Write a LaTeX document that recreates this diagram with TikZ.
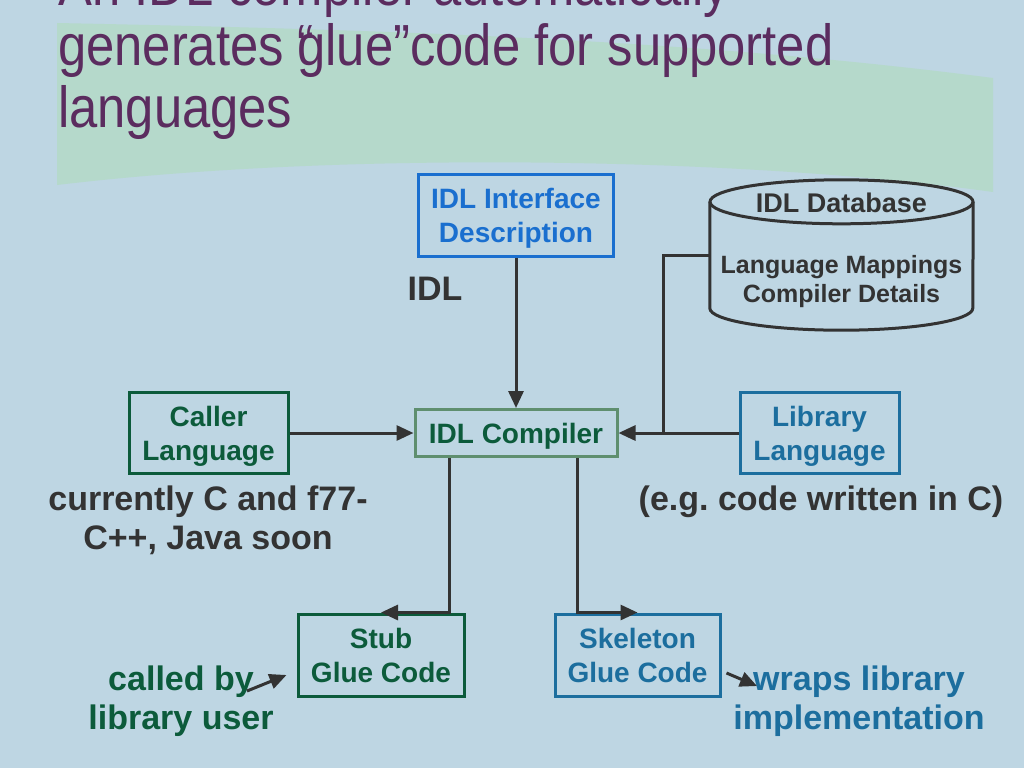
\documentclass[tikz,border=0pt]{standalone}
\usepackage{fontspec}
\setmainfont{Liberation Sans}
\newfontfamily\titlefont[FakeStretch=0.875]{Liberation Sans}
\usepackage{tikz}
\usetikzlibrary{arrows.meta}

\definecolor{bgblue}{HTML}{BED6E3}
\definecolor{swoosh}{HTML}{B5D9CB}
\definecolor{titlepurple}{HTML}{5B2C5F}
\definecolor{idlblue}{HTML}{1A6FCF}
\definecolor{libblue}{HTML}{1C6E9E}
\definecolor{callgreen}{HTML}{0C5B3B}
\definecolor{cmpgreen}{HTML}{5F8F6F}
\definecolor{linegray}{HTML}{333333}

\begin{document}
\begin{tikzpicture}[x=1pt,y=-1pt,>={Triangle[length=17pt,width=15pt]},
  box/.style={draw,line width=3pt,minimum width=159pt,minimum height=81pt,inner sep=0pt,text depth=0pt,align=center,font=\fontsize{28}{34}\selectfont\bfseries},
  note/.style={inner sep=0pt,align=center,font=\fontsize{34}{39}\selectfont\bfseries},
  heading/.style={anchor=base west,inner sep=0pt,text=titlepurple,font=\titlefont\fontsize{58}{58}\selectfont},
  conn/.style={draw=linegray,line width=3pt}]
\clip (0,0) rectangle (1024,768);
\fill[bgblue] (0,0) rectangle (1024,768);
% green brush stroke behind the heading
\fill[swoosh] (57,23) .. controls (400,30) and (700,40) .. (993,78) -- (993,192) .. controls (750,158) and (350,150) .. (57,185) -- cycle;
\node[heading] (t1) at (58,6) {An IDL compiler automatically};
\node[heading] (t2) at (58,66) {generates “\kern-0.3em glue”code for supported};
\node[heading] (t3) at (58,127) {languages};

% boxes
\node[box,draw=idlblue,text=idlblue,minimum width=195pt,minimum height=82pt] (iface) at (516,215) {IDL Interface\\Description};
\node[box,draw=cmpgreen,text=callgreen,minimum width=202pt,minimum height=47pt] (cmp) at (516,433) {IDL Compiler};
\node[box,draw=callgreen,text=callgreen] (caller) at (208.5,433) {Caller\\Language};
\node[box,draw=libblue,text=libblue] (lib) at (819.5,433) {Library\\Language};
\node[box,draw=callgreen,text=callgreen,minimum width=166pt,minimum height=82pt] (stub) at (381,655) {Stub\\Glue Code};
\node[box,draw=libblue,text=libblue,minimum width=165pt,minimum height=82pt] (skel) at (637.5,655) {Skeleton\\Glue Code};

% database drum
\node[minimum width=263pt,minimum height=150pt,inner sep=0pt] (db) at (841.5,255) {};
\draw[conn] ([yshift=-22pt]db.north) ellipse [x radius=131.5pt,y radius=22pt];
\draw[conn] ([yshift=-22pt]db.north west) -- ([yshift=22pt]db.south west) arc[start angle=180,end angle=360,x radius=131.5pt,y radius=22pt] -- ([yshift=-22pt]db.north east);
\node[inner sep=0pt,text=linegray,font=\fontsize{27}{32}\selectfont\bfseries] (dbname) at (841.5,203) {IDL Database};
\node[inner sep=0pt,align=center,text=linegray,font=\fontsize{25}{29}\selectfont\bfseries] (dbinfo) at (841.5,282) {Language Mappings\\Compiler Details};

% notes
\node[note,text=linegray] (idllbl) at (435,289) {IDL};
\node[note,text=linegray] (callnote) at (208,520) {currently C and f77-\\C++, Java soon};
\node[note,text=linegray] (libnote) at (821,502) {(e.g.\ code written in C)};
\node[note,text=callgreen] (calledby) at (181,701) {called by\\library user};
\node[note,text=libblue] (wraps) at (859,701) {wraps library\\implementation};

% connectors
\coordinate (jn) at (663,433);
\coordinate (cbtail) at (247,691);
\coordinate (wrtip) at (757,686);
\draw[conn,->] (iface) -- (cmp);
\draw[conn,->] (caller) -- (cmp);
\draw[conn,->] (lib) -- (cmp);
\draw[conn] (db.west) -| (jn);
\draw[conn,->] ([xshift=-67pt]cmp.south) |- (stub.north);
\draw[conn,->] ([xshift=61pt]cmp.south) |- (skel.north);
\draw[conn,->] (cbtail) -- ([shift={(-10pt,-20pt)}]stub.west);
\draw[conn,->] ([shift={(5pt,-18pt)}]skel.east) -- (wrtip);
\end{tikzpicture}
\end{document}
